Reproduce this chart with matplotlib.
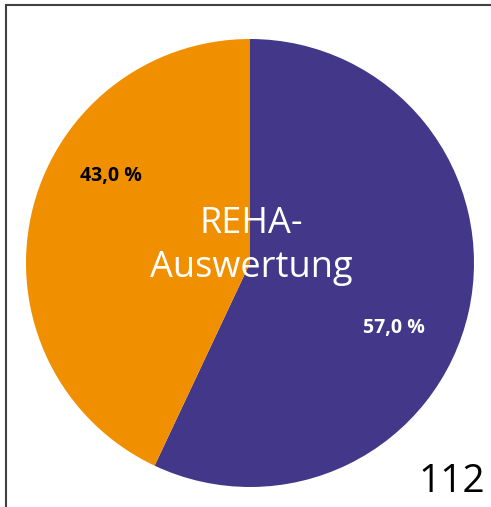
import matplotlib.pyplot as plt
from matplotlib.lines import Line2D

plt.rcParams['font.family'] = ['Open Sans', 'DejaVu Sans']

# Daten
kategorien = ['REHA', 'Sonstige']
anteile = [57.0, 43.0]
farben = ['#43378a', '#f09000']
beschriftungen = ['57,0 %', '43,0 %']
titel = 'REHA-\nAuswertung'
seitenzahl = '112'

fig = plt.figure(figsize=(4.91, 5.07), dpi=100)
ax = fig.add_axes([0, 0, 1, 1])

# Kreisdiagramm in Pixelkoordinaten
ax.pie(anteile, colors=farben, startangle=90, counterclock=False,
       center=(250, 507 - 263), radius=224,
       wedgeprops={'linewidth': 0}, frame=True)
ax.set_xlim(0, 491)
ax.set_ylim(0, 507)
ax.axis('off')

# Prozentangaben
ax.text(394, 507 - 328, beschriftungen[0], color='white', fontsize=14,
        fontweight='bold', ha='center', va='center')
ax.text(111, 507 - 176, beschriftungen[1], color='black', fontsize=14,
        fontweight='bold', ha='center', va='center')

# Mitteltext
ax.text(251, 507 - 246, titel, color='white', fontsize=26,
        ha='center', va='center', linespacing=1.3)

# Seitenzahl
ax.text(452, 507 - 482, seitenzahl, color='black', fontsize=28,
        ha='center', va='center')

# Rahmen links und oben
rahmen = Line2D([6, 6, 491], [0, 502, 502], color='#404040', linewidth=1.5,
                solid_joinstyle='miter')
ax.add_line(rahmen)

fig.savefig('out.png', dpi=100)
